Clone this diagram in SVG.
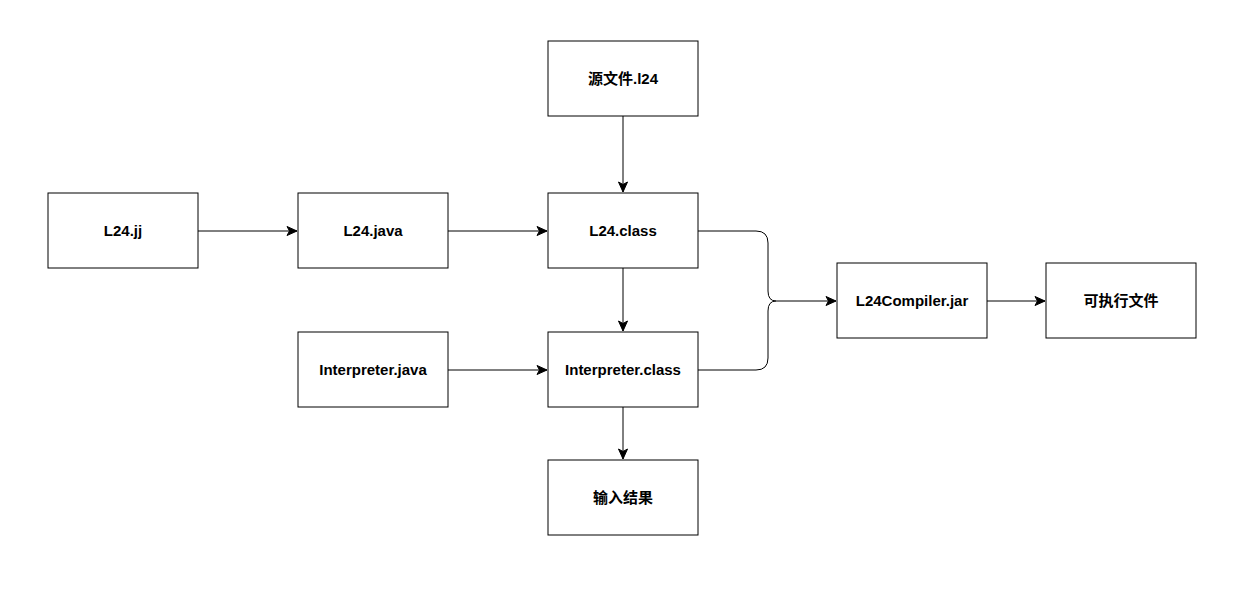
<svg xmlns="http://www.w3.org/2000/svg" width="1244" height="589" viewBox="0 0 1244 589">
<defs>
<style>
.box{fill:#fff;stroke:#000;stroke-width:1}
.lbl{font-family:"Liberation Sans","Noto Sans CJK SC",sans-serif;font-weight:bold;font-size:15px;fill:#000;text-anchor:middle;dominant-baseline:central}
.edge{fill:none;stroke:#000;stroke-width:1}
</style>
<marker id="arr" markerUnits="userSpaceOnUse" markerWidth="12" markerHeight="12" viewBox="0 0 12 12" refX="11" refY="6" orient="auto">
<path d="M1,1.5 L11,6 L1,10.5 L3.5,6 Z" fill="#000" stroke="#000" stroke-width="1"/>
</marker>
</defs>
<rect width="1244" height="589" fill="#fff"/>
<g id="connectors">
<path class="edge" d="M198 231 H297" marker-end="url(#arr)"/>
<path class="edge" d="M448 231 H547" marker-end="url(#arr)"/>
<path class="edge" d="M623 116 V192" marker-end="url(#arr)"/>
<path class="edge" d="M623 268 V331" marker-end="url(#arr)"/>
<path class="edge" d="M448 370 H547" marker-end="url(#arr)"/>
<path class="edge" d="M623 407 V459" marker-end="url(#arr)"/>
<path class="edge" d="M698 231 H756 Q768 231 768 243 V291 Q768 301 776 301 H836" marker-end="url(#arr)"/>
<path class="edge" d="M698 370 H756 Q768 370 768 358 V311 Q768 301 776 301"/>
<path class="edge" d="M987 301 H1045" marker-end="url(#arr)"/>
</g>
<g id="n_src"><rect class="box" x="548" y="41" width="150" height="75"/><text class="lbl" x="623" y="78.5">源文件.l24</text></g>
<g id="n_jj"><rect class="box" x="48" y="193" width="150" height="75"/><text class="lbl" x="123" y="230.5">L24.jj</text></g>
<g id="n_java"><rect class="box" x="298" y="193" width="150" height="75"/><text class="lbl" x="373" y="230.5">L24.java</text></g>
<g id="n_class"><rect class="box" x="548" y="193" width="150" height="75"/><text class="lbl" x="623" y="230.5">L24.class</text></g>
<g id="n_ijava"><rect class="box" x="298" y="332" width="150" height="75"/><text class="lbl" x="373" y="369.5">Interpreter.java</text></g>
<g id="n_iclass"><rect class="box" x="548" y="332" width="150" height="75"/><text class="lbl" x="623" y="369.5">Interpreter.class</text></g>
<g id="n_out"><rect class="box" x="548" y="460" width="150" height="75"/><text class="lbl" x="623" y="497.5">输入结果</text></g>
<g id="n_jar"><rect class="box" x="837" y="263" width="150" height="75"/><text class="lbl" x="912" y="300.5">L24Compiler.jar</text></g>
<g id="n_exe"><rect class="box" x="1046" y="263" width="150" height="75"/><text class="lbl" x="1121" y="300.5">可执行文件</text></g>
</svg>
